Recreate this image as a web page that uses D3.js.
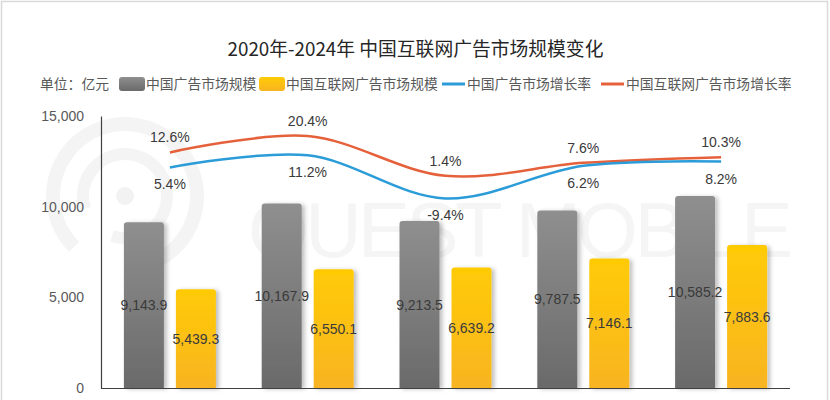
<!DOCTYPE html>
<html><head><meta charset="utf-8">
<script src="https://cdn.jsdelivr.net/npm/d3@7"></script>
<style>html,body{margin:0;padding:0;background:#fff;}svg{display:block;}</style>
</head><body>
<svg id="chart" width="830" height="400"></svg>
<script>
// ---- data ----
const categories = ["2020年", "2021年", "2022年", "2023年", "2024年"];
const adMarket = [9143.9, 10167.9, 9213.5, 9787.5, 10585.2];
const internetAdMarket = [5439.3, 6550.1, 6639.2, 7146.1, 7883.6];
const adGrowth = [5.4, 11.2, -9.4, 6.2, 8.2];
const internetAdGrowth = [12.6, 20.4, 1.4, 7.6, 10.3];
const yTicks = [0, 5000, 10000, 15000];
const seriesNames = ["中国广告市场规模", "中国互联网广告市场规模", "中国广告市场增长率", "中国互联网广告市场增长率"];
const titleText = "2020年-2024年 中国互联网广告市场规模变化";
const unitText = "单位：亿元";

(function () {
const svg = d3.select("#chart");
const mLeft = 101, mRight = 790, mTop = 116, mBottom = 388;
const cjk = "'Noto Sans CJK SC', 'Noto Sans', sans-serif";
const num = "'Liberation Sans', Arial, sans-serif";

// frame
svg.append("rect").attr("x", 1.5).attr("y", 1.5).attr("width", 826).attr("height", 420)
  .attr("fill", "#fff").attr("stroke", "#d9d9d9").attr("stroke-width", 1.5);

const defs = svg.append("defs");
const gg = defs.append("linearGradient").attr("id", "gGray").attr("x1", 0).attr("y1", 0).attr("x2", 0).attr("y2", 1);
gg.append("stop").attr("offset", "0%").attr("stop-color", "#8f8f8f");
gg.append("stop").attr("offset", "100%").attr("stop-color", "#6a6a6a");
const gy = defs.append("linearGradient").attr("id", "gYellow").attr("x1", 0).attr("y1", 0).attr("x2", 0).attr("y2", 1);
gy.append("stop").attr("offset", "0%").attr("stop-color", "#ffcb05");
gy.append("stop").attr("offset", "100%").attr("stop-color", "#f8b422");
const sh = defs.append("filter").attr("id", "shadow").attr("x", "-20%").attr("y", "-10%").attr("width", "150%").attr("height", "130%");
sh.append("feDropShadow").attr("dx", 3).attr("dy", 1).attr("stdDeviation", 2)
  .attr("flood-color", "#000").attr("flood-opacity", 0.25);

// watermark
const wm = svg.append("g").attr("fill", "none").attr("stroke", "#f4f4f4");
wm.append("circle").attr("cx", 125).attr("cy", 196).attr("r", 9).attr("fill", "#f2f2f2").attr("stroke", "none");
const ringArc = (r, a0, a1) => {
  const p = d3.path();
  p.arc(125, 196, r, a0, a1);
  return p.toString();
};
wm.append("path").attr("stroke-width", 12).attr("d", ringArc(42, Math.PI * 0.9, Math.PI * 2.6));
wm.append("path").attr("stroke-width", 14).attr("d", ringArc(72, Math.PI * 0.75, Math.PI * 2.45));
svg.append("text").attr("x", 248).attr("y", 257).attr("font-family", num).attr("font-size", 78)
  .attr("fill", "#f5f5f5").attr("textLength", 545).attr("lengthAdjust", "spacing").text("QUEST MOBILE");

// scales
const x0 = d3.scaleBand().domain(categories).range([mLeft, mRight]);
const bw = x0.bandwidth();
const inner = d3.scaleBand().domain(["a", "b"]).range([(bw - 92) / 2, (bw - 92) / 2 + 92]).paddingInner(12 / 52);
const y = d3.scaleLinear().domain([0, 15000]).range([mBottom, mTop]);
const y2 = d3.scaleLinear().domain([-100, 30]).range([mBottom, mTop]);

// y axis
const yAxis = svg.append("g").attr("transform", `translate(${mLeft},0)`)
  .call(d3.axisLeft(y).tickValues(yTicks).tickSize(0).tickPadding(17).tickSizeOuter(0).tickFormat(d3.format(",")));
yAxis.select(".domain").attr("stroke", "#404040").attr("stroke-width", 1.2);
yAxis.selectAll("text").attr("font-family", num).attr("font-size", 14).attr("fill", "#595959");

// bars
const barPath = (bx, by, w, h, r) => {
  r = Math.min(r, h);
  return `M${bx},${by + h}V${by + r}Q${bx},${by} ${bx + r},${by}H${bx + w - r}Q${bx + w},${by} ${bx + w},${by + r}V${by + h}Z`;
};
const barData = [];
categories.forEach((c, i) => {
  barData.push({c, k: "a", v: adMarket[i]});
  barData.push({c, k: "b", v: internetAdMarket[i]});
});
svg.append("g").selectAll("path").data(barData).join("path")
  .attr("d", d => barPath(x0(d.c) + inner(d.k), y(d.v), inner.bandwidth(), mBottom - y(d.v), 3))
  .attr("fill", d => d.k === "a" ? "url(#gGray)" : "url(#gYellow)")
  .attr("filter", "url(#shadow)");

// x axis baseline
svg.append("line").attr("x1", mLeft).attr("x2", mRight).attr("y1", mBottom + 0.5).attr("y2", mBottom + 0.5)
  .attr("stroke", "#404040").attr("stroke-width", 1.2);

// bar labels
svg.append("g").selectAll("text").data(barData).join("text")
  .attr("x", d => x0(d.c) + inner(d.k) + inner.bandwidth() / 2)
  .attr("y", d => (y(d.v) + mBottom) / 2)
  .attr("dy", "0.36em").attr("text-anchor", "middle")
  .attr("font-family", num).attr("font-size", 14).attr("fill", "#3a3a3a")
  .text(d => d3.format(",.1f")(d.v));

// lines
const cx = c => x0(c) + bw / 2;
const line = d3.line().x((d, i) => cx(categories[i])).y(d => y2(d)).curve(d3.curveCatmullRom.alpha(0.5));
svg.append("path").attr("d", line(internetAdGrowth)).attr("fill", "none").attr("stroke", "#e5613b").attr("stroke-width", 2.5);
svg.append("path").attr("d", line(adGrowth)).attr("fill", "none").attr("stroke", "#2b9cd8").attr("stroke-width", 2.5);

// line labels
const pct = d => d.toFixed(1) + "%";
svg.append("g").selectAll("text").data(internetAdGrowth).join("text")
  .attr("x", (d, i) => cx(categories[i])).attr("y", d => y2(d) - 10)
  .attr("text-anchor", "middle").attr("font-family", num).attr("font-size", 14).attr("fill", "#3a3a3a")
  .text(pct);
svg.append("g").selectAll("text").data(adGrowth).join("text")
  .attr("x", (d, i) => cx(categories[i])).attr("y", d => y2(d) + 22)
  .attr("text-anchor", "middle").attr("font-family", num).attr("font-size", 14).attr("fill", "#3a3a3a")
  .text(pct);

// title
svg.append("text").attr("x", 415.5).attr("y", 55.5).attr("text-anchor", "middle")
  .attr("font-family", cjk).attr("font-size", 18.8).attr("fill", "#262626").text(titleText);

// legend
const lg = svg.append("g").attr("font-family", cjk).attr("font-size", 13.8).attr("fill", "#595959");
lg.append("text").attr("x", 40).attr("y", 89).text(unitText);
const legendItems = [
  {name: seriesNames[0], type: "box", fill: "url(#gGray)", x: 119},
  {name: seriesNames[1], type: "box", fill: "url(#gYellow)", x: 259},
  {name: seriesNames[2], type: "line", color: "#2b9cd8", x: 442},
  {name: seriesNames[3], type: "line", color: "#e5613b", x: 601}
];
legendItems.forEach(it => {
  if (it.type === "box") {
    lg.append("rect").attr("x", it.x).attr("y", 77).attr("width", 26).attr("height", 14).attr("rx", 3)
      .attr("fill", it.fill);
    lg.append("text").attr("x", it.x + 27).attr("y", 89).text(it.name);
  } else {
    lg.append("line").attr("x1", it.x).attr("x2", it.x + 23).attr("y1", 84).attr("y2", 84)
      .attr("stroke", it.color).attr("stroke-width", 3);
    lg.append("text").attr("x", it.x + 25).attr("y", 89).text(it.name);
  }
});
})();
</script>
</body></html>
